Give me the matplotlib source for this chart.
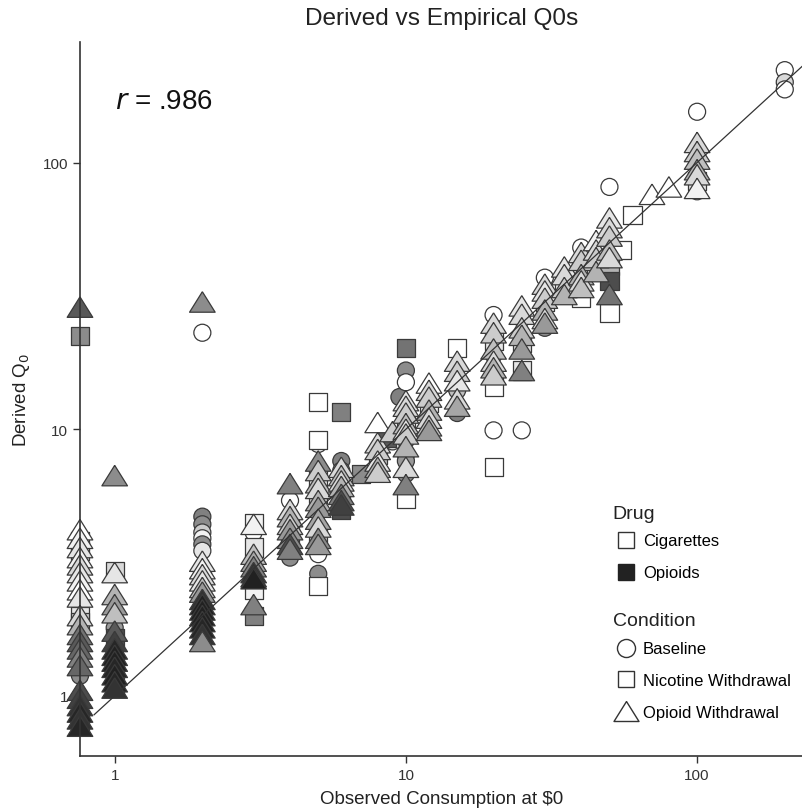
import matplotlib.pyplot as plt
from matplotlib.lines import Line2D
from matplotlib.ticker import FixedLocator, NullLocator, FixedFormatter

plt.rcParams['font.family'] = ['Liberation Sans', 'DejaVu Sans']

# baseline condition (circles): x, y, fill shade (0 black .. 1 white)
bl_x = [0.76, 0.76, 0.76,
        1, 1, 1, 1,
        2, 2, 2, 2, 2, 2, 2, 2, 2, 2,
        3, 3, 4, 4, 4, 4, 5, 5, 5, 5, 6, 6, 8, 9, 9.5,
        10, 10, 10, 10, 10, 10, 15, 15, 20, 20, 20, 20, 25, 25, 30, 30,
        40, 50, 50, 100, 100, 100, 200, 200, 200]
bl_y = [1.19, 1.45, 3.0,
        1.95, 1.8, 1.45, 1.25,
        23, 4.7, 4.4, 4.1, 3.9, 3.7, 3.5, 2.15, 1.95, 1.75,
        4.1, 3.0, 5.4, 4.55, 4.0, 3.3, 8.8, 4.9, 3.4, 2.87, 7.6, 7.0, 7.0, 9.0, 13.2,
        16.6, 15.0, 9.1, 8.0, 7.6, 6.8, 14.0, 11.5, 26.8, 19, 15.5, 9.9, 9.9, 26, 37, 24,
        48, 81, 50, 155, 98, 78, 222, 200, 188]
bl_shade = [0.55, 0.45, 0.95,
            0.55, 0.6, 0.13, 0.13,
            1.0, 0.5, 0.55, 0.8, 0.95, 0.55, 0.9, 0.13, 0.15, 0.2,
            1.0, 0.4, 1.0, 0.95, 0.6, 0.55, 0.95, 0.75, 1.0, 0.55, 0.5, 0.6, 0.6, 0.9, 0.5,
            0.55, 1.0, 0.7, 0.75, 0.6, 0.55, 0.75, 0.5, 1.0, 0.6, 0.55, 1.0, 1.0, 0.95, 1.0, 0.55,
            1.0, 1.0, 0.9, 1.0, 0.9, 0.8, 1.0, 0.85, 1.0]

# nicotine withdrawal condition (squares)
nw_x = [0.76, 0.76, 0.76, 0.76, 0.76, 0.76,
        1, 1, 1, 1, 2, 2, 2, 2,
        3, 3, 3, 3, 4, 4, 5, 5, 5, 5, 5, 5, 6, 6, 6, 7, 8, 8.6,
        10, 10, 10, 12, 15, 20, 20, 20, 25, 25, 30, 35, 40, 40, 45,
        50, 50, 50, 55, 60, 100]
nw_y = [22.4, 3.8, 3.5, 2.0, 1.9, 0.8,
        2.95, 1.65, 1.3, 1.1, 2.75, 2.35, 2.05, 1.85,
        4.43, 3.6, 2.5, 2.0, 4.3, 3.8, 12.6, 9.1, 6.6, 5.7, 4.1, 2.59, 11.6, 5.9, 5.0, 6.8, 8.0, 9.3,
        20.2, 11.0, 5.5, 12.5, 20.2, 21.5, 14.4, 7.2, 21, 16.6, 30, 36, 41, 31, 41,
        41, 36, 27.3, 47, 63.6, 85]
nw_shade = [0.55, 0.95, 0.9, 0.9, 0.8, 0.2,
            0.85, 0.3, 0.13, 0.2, 0.9, 0.25, 0.13, 0.13,
            0.95, 0.9, 0.95, 0.5, 0.75, 0.6, 1.0, 1.0, 0.9, 0.8, 0.75, 1.0, 0.5, 0.6, 0.3, 0.55, 0.75, 0.35,
            0.45, 0.9, 1.0, 0.9, 1.0, 0.9, 1.0, 1.0, 0.85, 0.9, 0.95, 0.95, 0.9, 1.0, 0.95,
            0.7, 0.3, 1.0, 1.0, 1.0, 0.9]

# opioid withdrawal condition (triangles)
ow_x = [0.76] * 23 + [1] * 14 + [2] * 15 + [3] * 8 + [4] * 8 + [5] * 10 + [6] * 7 + \
       [8] * 6 + [9] + [10] * 9 + [12] * 7 + [15] * 5 + [20] * 6 + [25] * 6 + [30] * 6 + \
       [35] * 4 + [40] * 5 + [45] * 4 + [50] * 6 + [70, 80] + [100] * 6
ow_y = [28.7, 4.2, 3.9, 3.6, 3.3, 3.1, 2.9, 2.7, 2.5, 2.35, 2.0, 1.85, 1.7, 1.6, 1.5, 1.4, 1.3,
        1.05, 0.98, 0.92, 0.87, 0.82, 0.77,
        6.7, 2.9, 2.4, 2.2, 2.05, 1.75, 1.6, 1.5, 1.42, 1.35, 1.28, 1.2, 1.13, 1.07,
        30, 3.2, 3.0, 2.85, 2.7, 2.55, 2.45, 2.3, 2.2, 2.1, 2.0, 1.9, 1.8, 1.7, 1.6,
        4.4, 3.4, 3.2, 3.05, 2.9, 2.8, 2.75, 2.2,
        6.25, 5.0, 4.7, 4.4, 4.2, 3.9, 3.7, 3.55,
        7.6, 7.0, 6.3, 6.0, 5.4, 5.1, 4.6, 4.3, 3.9, 3.7,
        7.2, 6.7, 6.4, 6.1, 5.7, 5.4, 5.2,
        10.6, 8.9, 8.4, 7.6, 7.2, 6.9, 9.8,
        12.8, 12.2, 11.5, 10.5, 10.0, 9.6, 8.6, 7.2, 6.2,
        14.9, 14.0, 13.2, 11.8, 11.0, 10.3, 9.9,
        18.0, 16.5, 15.2, 13.0, 12.2,
        25, 23, 20, 18, 17, 16,
        29, 27, 24, 22.5, 20, 16.6,
        35, 33, 31, 28, 26, 25,
        40.6, 38, 34, 32,
        46, 43, 38, 36, 34,
        51, 47, 44, 39,
        62, 57, 53, 47, 44, 32,
        76, 81,
        119, 110, 103, 94, 90, 80]
ow_shade = [0.35, 1.0, 0.95, 0.9, 0.95, 0.85, 0.9, 0.95, 1.0, 0.9, 0.85, 0.7, 0.45, 0.35, 0.4, 0.5, 0.4,
            0.3, 0.25, 0.2, 0.15, 0.2, 0.15,
            0.55, 0.9, 0.7, 0.6, 0.75, 0.35, 0.25, 0.15, 0.13, 0.13, 0.15, 0.13, 0.15, 0.2,
            0.55, 0.9, 0.95, 0.85, 0.9, 0.75, 0.6, 0.2, 0.13, 0.13, 0.13, 0.13, 0.15, 0.2, 0.55,
            0.95, 0.75, 0.65, 0.5, 0.2, 0.15, 0.13, 0.5,
            0.5, 0.85, 0.7, 0.8, 0.6, 0.55, 0.3, 0.5,
            0.55, 0.8, 0.75, 0.85, 0.7, 0.6, 0.65, 0.85, 0.55, 0.6,
            0.85, 0.75, 0.85, 0.7, 0.5, 0.3, 0.25,
            1.0, 0.85, 0.8, 0.9, 0.7, 0.8, 0.8,
            0.9, 0.85, 0.8, 0.75, 0.9, 0.8, 0.7, 0.85, 0.5,
            1.0, 0.85, 0.8, 0.7, 0.85, 0.75, 0.6,
            0.85, 0.8, 0.9, 0.85, 0.65,
            0.85, 0.8, 0.75, 0.85, 0.7, 0.8,
            0.9, 0.85, 0.8, 0.7, 0.6, 0.5,
            0.85, 0.9, 0.8, 0.7, 0.85, 0.6,
            0.9, 0.85, 0.8, 0.7,
            0.85, 0.8, 0.7, 0.85, 0.75,
            0.95, 0.85, 0.8, 0.7,
            0.9, 0.85, 0.8, 0.75, 0.85, 0.45,
            1.0, 1.0,
            0.85, 0.8, 0.75, 0.7, 0.85, 0.95]

r_text = '.986'
tick_vals = [1, 10, 100]

fig = plt.figure(figsize=(8.03, 8.12), dpi=100)
ax = fig.add_axes([0.0996, 0.0677, 0.9004, 0.8793])
ax.set_xscale('log')
ax.set_yscale('log')
ax.set_xlim(0.76, 231)
ax.set_ylim(0.595, 283)

edge = '#3a3a3a'
# wide triangle, closed path
tri = [(0, 0.8), (-1, -0.8), (1, -0.8), (0, 0.8)]
ax.scatter(bl_x, bl_y, s=150, marker='o', c=[str(v) for v in bl_shade],
           edgecolors=edge, linewidths=0.9, zorder=3, clip_on=False)
ax.scatter(nw_x, nw_y, s=170, marker='s', c=[str(v) for v in nw_shade],
           edgecolors=edge, linewidths=0.9, zorder=3, clip_on=False)
ax.scatter(ow_x, ow_y, s=340, marker=tri, c=[str(v) for v in ow_shade],
           edgecolors=edge, linewidths=0.9, zorder=3, clip_on=False)

# identity line
ax.plot([0.85, 231], [0.85, 231], color='#333333', lw=0.9, zorder=4)

for side in ['top', 'right']:
    ax.spines[side].set_visible(False)
for side in ['left', 'bottom']:
    ax.spines[side].set_color('#333333')
    ax.spines[side].set_linewidth(1.2)
    ax.spines[side].set_zorder(5)

for axis in [ax.xaxis, ax.yaxis]:
    axis.set_major_locator(FixedLocator(tick_vals))
    axis.set_major_formatter(FixedFormatter([str(v) for v in tick_vals]))
    axis.set_minor_locator(NullLocator())
ax.tick_params(direction='out', length=5, width=1, color='#333333',
               labelsize=11, labelcolor='#333333')

ax.set_xlabel('Observed Consumption at $0', fontsize=13.5, color='#222222', labelpad=6)
ax.set_ylabel('Derived Q$_0$', fontsize=13.5, color='#222222', labelpad=8)
fig.text(0.55, 0.976, 'Derived vs Empirical Q0s', ha='center', va='center',
         fontsize=17.6, color='#222222')
ax.text(0.143, 0.874, '$r$ = ' + r_text, transform=fig.transFigure, fontsize=20,
        ha='left', va='center', color='#111111')

# legends (titles drawn as plain text so the gap matches)
drug_handles = [
    Line2D([], [], marker='s', ls='', ms=12, mfc='white', mec='#333333', mew=1, label='Cigarettes'),
    Line2D([], [], marker='s', ls='', ms=12, mfc='#222222', mec='#222222', mew=1, label='Opioids'),
]
cond_handles = [
    Line2D([], [], marker='o', ls='', ms=13, mfc='white', mec='#333333', mew=1, label='Baseline'),
    Line2D([], [], marker='s', ls='', ms=12, mfc='white', mec='#333333', mew=1, label='Nicotine Withdrawal'),
    Line2D([], [], marker=tri, ls='', ms=18, mfc='white', mec='#333333', mew=1, label='Opioid Withdrawal'),
]
fig.text(0.763, 1 - 515 / 812, 'Drug', fontsize=14, ha='left', va='center', color='#222222')
fig.text(0.763, 1 - 622 / 812, 'Condition', fontsize=14, ha='left', va='center', color='#222222')
leg1 = ax.legend(handles=drug_handles, loc='upper left',
                 bbox_to_anchor=(0.757, 1 - 526 / 812), bbox_transform=fig.transFigure,
                 frameon=False, fontsize=12,
                 handletextpad=0.4, labelspacing=1.03, handlelength=1.2, borderpad=0)
ax.add_artist(leg1)
ax.legend(handles=cond_handles, loc='upper left',
          bbox_to_anchor=(0.757, 1 - 634 / 812), bbox_transform=fig.transFigure,
          frameon=False, fontsize=12,
          handletextpad=0.4, labelspacing=1.0, handlelength=1.2, borderpad=0)

fig.savefig('out.png', dpi=100)
